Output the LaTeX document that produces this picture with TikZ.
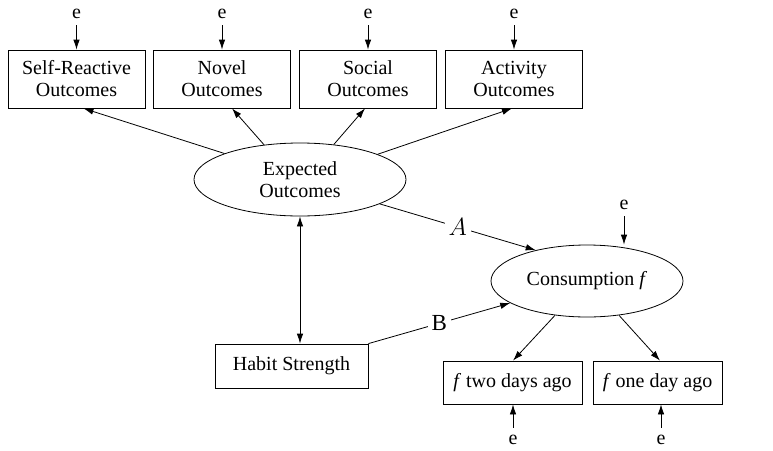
\documentclass[tikz,border=0pt]{standalone}
\usepackage{fontspec}
\setmainfont{Liberation Serif}
\usetikzlibrary{shapes.geometric,arrows.meta}
\begin{document}
\begin{tikzpicture}[x=1pt,y=-1pt,
  every node/.style={font=\fontsize{20}{22}\selectfont, inner sep=0pt},
  box/.style={draw, line width=0.8pt, align=center},
  ell/.style={draw, ellipse, line width=0.8pt, align=center},
  err/.style={},
  arr/.style={line width=0.8pt, -{Latex[length=10pt,width=6.5pt]}},
  barr/.style={line width=0.8pt, {Latex[length=10pt,width=6.5pt]}-{Latex[length=10pt,width=6.5pt]}},
  lab/.style={fill=white, inner sep=4pt, font=\fontsize{23}{25}\selectfont}]
\useasboundingbox (0,0) rectangle (773,450);
% top boxes
\node[box, minimum width=137pt, minimum height=58pt] (self) at (76.5,79) {Self-Reactive\\Outcomes};
\node[box, minimum width=137pt, minimum height=58pt] (novel) at (222,79) {Novel\\Outcomes};
\node[box, minimum width=137pt, minimum height=58pt] (social) at (368,79) {Social\\Outcomes};
\node[box, minimum width=137pt, minimum height=58pt] (act) at (514,79) {Activity\\Outcomes};
% error terms top
\node[err] (e1) at (76.5,14) {e};
\node[err] (e2) at (222,14) {e};
\node[err] (e3) at (368,14) {e};
\node[err] (e4) at (514,14) {e};
\foreach \e/\b in {e1/self,e2/novel,e3/social,e4/act}
  \draw[arr] ([yshift=-6pt]\e.south) -- (\b.north);
% latent
\node[ell, minimum width=212pt, minimum height=73pt] (exp) at (300,179.5) {Expected\\Outcomes};
\node[ell, minimum width=192pt, minimum height=72pt] (cons) at (587,281) {Consumption \textit{f}};
\node[err] (e5) at (624,205) {e};
\draw[arr] ([yshift=-6pt]e5.south) -- (cons.north -| e5);
% habit
\node[box, minimum width=153pt, minimum height=44pt] (habit) at (291.5,366) {Habit Strength};
% indicators
\node[box, minimum width=139pt, minimum height=43pt] (f2) at (512.5,382.5) {\textit{f} two days ago};
\node[box, minimum width=129pt, minimum height=43pt] (f1) at (657.5,382.5) {\textit{f} one day ago};
\node[err] (e6) at (513,440) {e};
\node[err] (e7) at (661,440) {e};
\draw[arr] ([yshift=7pt]e6.north) -- (e6 |- f2.south);
\draw[arr] ([yshift=7pt]e7.north) -- (e7 |- f1.south);
% connectors
\draw[arr] (exp.161) -- ([xshift=7pt]self.south);
\draw[arr] (exp.136) -- ([xshift=10pt]novel.south);
\draw[arr] (exp.46) -- ([xshift=-3pt]social.south);
\draw[arr] (exp.18) -- ([xshift=-2pt]act.south);
\draw[arr] (exp.343) -- node[lab] {$A$} (cons.149);
\draw[arr] (habit.north east) -- node[lab] {B} (cons.196);
\draw[barr] (exp.south) -- (exp.south |- habit.north);
\draw[arr] (cons.227) -- ([xshift=0.5pt]f2.north);
\draw[arr] (cons.313) -- ([xshift=2.5pt]f1.north);
\end{tikzpicture}
\end{document}
